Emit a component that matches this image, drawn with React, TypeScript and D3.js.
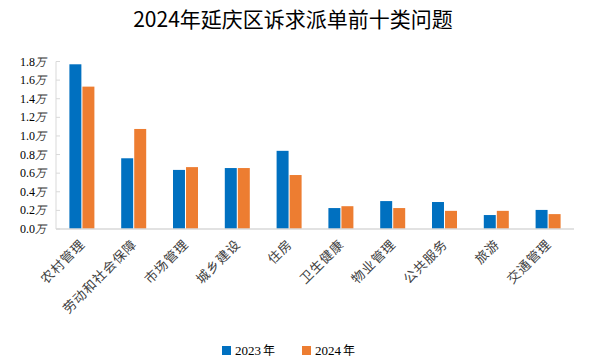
import React from 'react';
import * as d3 from 'd3';

const TITLE = '2024年延庆区诉求派单前十类问题';
const CATEGORIES = ['农村管理', '劳动和社会保障', '市场管理', '城乡建设', '住房', '卫生健康', '物业管理', '公共服务', '旅游', '交通管理'];
const SERIES = ['2023年', '2024年'];
const VALUES_2023 = [1.77, 0.76, 0.635, 0.655, 0.84, 0.225, 0.3, 0.29, 0.15, 0.205];
const VALUES_2024 = [1.53, 1.075, 0.665, 0.655, 0.58, 0.245, 0.225, 0.195, 0.195, 0.16];
const Y_TICKS = [0, 0.2, 0.4, 0.6, 0.8, 1.0, 1.2, 1.4, 1.6, 1.8];
const COLORS = ['#0070c0', '#ed7d31'];

const W = 590;
const H = 364;
const left = 56;
const right = 574;
const top = 61.5;
const bottom = 229;
const serif = '"Liberation Serif", "Times New Roman", "Noto Sans CJK SC", serif';
const cjk = '"Noto Sans CJK SC", sans-serif';

const App = () => {
  const x0 = d3.scaleBand<string>().domain(CATEGORIES).range([left, right]);
  const groupW = 25;
  const x1 = d3.scaleBand<string>().domain(SERIES).range([0, groupW]).paddingInner(0.08);
  const y = d3.scaleLinear().domain([0, 1.8]).range([bottom, top]);
  const seriesValues = [VALUES_2023, VALUES_2024];

  return (
    <svg width={W} height={H} style={{ position: 'absolute', left: 0, top: 0 }}>
      <text x={293} y={27} textAnchor="middle" fontSize={21} fontFamily={cjk} fill="#000">
        {TITLE}
      </text>

      {/* y axis */}
      <line x1={left} x2={left} y1={y(1.8)} y2={bottom} stroke="#d9d9d9" strokeWidth={1} />
      {Y_TICKS.map(t => (
        <g key={t}>
          <line x1={left} x2={left + 4} y1={y(t)} y2={y(t)} stroke="#d9d9d9" />
          <text x={46} y={y(t) + 4} textAnchor="end" fontSize={12} fontFamily={serif} fill="#000">
            {t.toFixed(1)}
            <tspan fontStyle="italic" fontSize={11} fill="#333">万</tspan>
          </text>
        </g>
      ))}

      {/* bars */}
      {CATEGORIES.map((c, i) => {
        const gx = x0(c)! + (x0.bandwidth() - groupW) / 2;
        return (
          <g key={c} transform={`translate(${gx},0)`}>
            {SERIES.map((s, j) => (
              <rect
                key={s}
                x={x1(s)}
                y={y(seriesValues[j][i])}
                width={x1.bandwidth()}
                height={bottom - y(seriesValues[j][i])}
                fill={COLORS[j]}
              />
            ))}
          </g>
        );
      })}

      {/* x axis */}
      <line x1={left} x2={right} y1={bottom} y2={bottom} stroke="#d9d9d9" strokeWidth={1.5} />
      {CATEGORIES.map(c => {
        const cx = x0(c)! + x0.bandwidth() / 2 + 4;
        const ty = 245;
        return (
          <text
            key={c}
            x={cx}
            y={ty}
            transform={`rotate(-45 ${cx} ${ty})`}
            textAnchor="end"
            fontSize={13}
            letterSpacing={1}
            fontFamily={cjk}
            fill="#404040"
          >
            {c}
          </text>
        );
      })}

      {/* legend */}
      {SERIES.map((s, j) => {
        const lx = 222 + j * 80;
        return (
          <g key={s}>
            <rect x={lx} y={346} width={9} height={9} fill={COLORS[j]} />
            <text x={lx + 13} y={355} fontSize={13} fontFamily={serif} fill="#000">
              {s.slice(0, 4)}
              <tspan fontFamily={cjk} fontSize={12} dx={2}>{s.slice(4)}</tspan>
            </text>
          </g>
        );
      })}
    </svg>
  );
};

export default App;
